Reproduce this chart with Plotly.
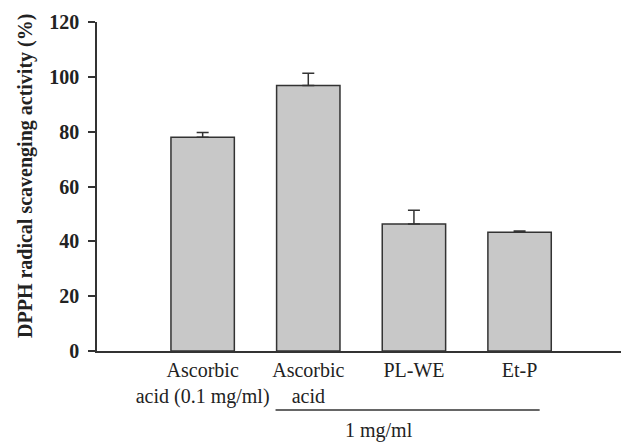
import plotly.graph_objects as go

categories = ["Ascorbic<br>acid (0.1 mg/ml)", "Ascorbic<br>acid", "PL-WE", "Et-P"]
values = [78.0, 96.8, 46.3, 43.3]
errors = [1.7, 4.5, 5.0, 0.5]
y_ticks = [0, 20, 40, 60, 80, 100, 120]

FONT = "Liberation Serif, Times New Roman, serif"
xpos = list(range(len(categories)))

fig = go.Figure()
fig.add_trace(go.Bar(
    x=xpos, y=values, width=0.6,
    marker=dict(color="#c8c8c8", line=dict(color="#333333", width=1.5)),
    error_y=dict(type="data", symmetric=False, array=errors,
                 arrayminus=[0] * len(errors), color="#333333",
                 thickness=1.5, width=6),
    showlegend=False,
))

fig.update_layout(
    width=621, height=443,
    margin=dict(l=97, r=0, t=22, b=92),
    plot_bgcolor="white", paper_bgcolor="white",
    font=dict(family=FONT, color="#222222"),
    xaxis=dict(range=[-1.0, 3.96], tickvals=xpos, ticktext=categories,
               showline=True, linecolor="#333333", linewidth=1.5,
               ticks="", showgrid=False, zeroline=False,
               tickfont=dict(size=20, family=FONT)),
    yaxis=dict(range=[0, 120], tickvals=y_ticks, showline=True,
               linecolor="#333333", linewidth=1.5, ticks="outside",
               ticklen=7, tickcolor="#333333", tickwidth=1.5,
               showgrid=False, zeroline=False, ticklabelstandoff=5,
               tickfont=dict(size=20, family=FONT, weight="bold")),
)

fig.add_annotation(
    text="<b>DPPH radical scavenging activity (%)</b>",
    xref="paper", yref="paper", x=(25 - 97) / 524, y=(351 - 176) / 329,
    textangle=-90, showarrow=False, font=dict(size=20, family=FONT),
    xanchor="center", yanchor="middle",
)

fig.add_shape(type="line", xref="x", yref="paper", x0=0.69, x1=3.19,
              y0=-(410 - 351) / 329, y1=-(410 - 351) / 329,
              line=dict(color="#333333", width=1.5))
fig.add_annotation(
    text="1 mg/ml", xref="x", yref="paper", x=1.67, y=-(430 - 351) / 329,
    showarrow=False, font=dict(size=20, family=FONT),
    xanchor="center", yanchor="middle",
)

fig.write_html("out.html")
